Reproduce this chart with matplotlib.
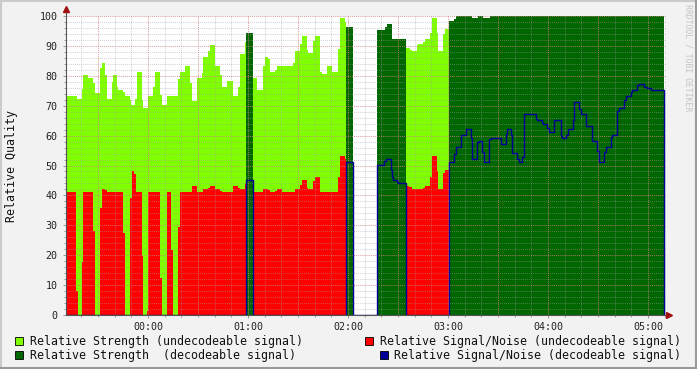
import numpy as np
import matplotlib
matplotlib.use("Agg")
import matplotlib.pyplot as plt
from matplotlib.patches import Rectangle

plt.rcParams['font.family'] = ['DejaVu Sans Mono', 'DejaVu Sans']

# temps en minutes depuis 00:00 (negatif = avant minuit)
t_debut, t_fin_data = -49.2, 309.6
t_gauche, t_droite = -49.2, 310.8

# force du signal (toutes periodes)
force_t = [-49.2, -42.6, -39.6, -39.0, -36.0, -33.0, -31.8, -28.8, -27.6, -25.8,
           -24.6, -21.6, -21.0, -18.6, -18.0, -15.0, -13.8, -10.8, -10.2, -7.8,
           -6.6, -3.6, -3.0, 0.0, 3.0, 4.2, 7.2, 8.4, 11.4, 18.0,
           19.2, 22.2, 25.2, 26.4, 29.4, 32.4, 33.0, 36.0, 37.2, 40.2,
           43.2, 44.4, 47.4, 51.0, 54.0, 55.2, 58.2, 59.0, 63.0, 65.4,
           69.0, 70.2, 72.0, 73.2, 76.2, 77.4, 87.0, 88.2, 91.2, 92.4,
           95.4, 96.0, 99.0, 100.2, 103.2, 104.4, 107.4, 110.4, 114.0, 115.2,
           118.2, 119.0, 123.0, 137.4, 142.2, 143.4, 146.4, 154.8, 157.2, 158.4,
           161.4, 162.0, 165.0, 166.2, 169.2, 170.4, 173.4, 174.0, 177.0, 178.2,
           180.6, 183.6, 184.8, 194.4, 198.0, 201.0, 205.2]
force_v = [73.2, 72.2, 75.5, 80.3, 79.3, 77.5, 74.2, 82.6, 84.3, 80.3,
           72.2, 78.0, 80.3, 76.3, 75.3, 74.6, 73.2, 72.0, 70.2, 72.2,
           81.3, 71.9, 69.3, 73.2, 76.3, 81.3, 73.6, 70.2, 73.2, 78.9,
           81.3, 83.3, 77.6, 71.6, 79.3, 80.9, 86.3, 88.3, 90.3, 83.3,
           80.3, 76.3, 78.3, 73.2, 76.3, 87.3, 91.3, 94.3, 79.3, 75.3,
           83.3, 86.3, 85.6, 81.3, 81.9, 83.3, 84.3, 88.3, 90.6, 93.3,
           88.6, 87.6, 91.6, 93.3, 81.3, 80.6, 83.3, 81.3, 89.0, 99.3,
           98.0, 96.3, 0.0, 95.3, 96.3, 97.3, 92.3, 89.3, 88.6, 88.3,
           90.3, 90.6, 91.3, 92.3, 94.3, 99.3, 94.3, 88.3, 94.0, 95.7,
           98.3, 99.0, 100.0, 99.3, 100.0, 99.3, 100.0]

# rapport signal/bruit
sb_t = [-49.2, -43.2, -42.0, -39.6, -39.0, -33.0, -31.8, -28.8, -27.6, -25.8,
        -24.6, -15.0, -13.8, -10.8, -9.6, -8.4, -7.2, -3.6, -3.0, -0.6,
        0.0, 7.2, 8.4, 11.4, 13.8, 15.0, 18.0, 19.2, 26.4, 29.4,
        33.0, 36.0, 37.2, 40.2, 43.2, 44.4, 51.0, 54.0, 55.2, 58.2,
        59.0, 63.0, 69.0, 72.0, 73.2, 76.2, 77.4, 80.4, 88.2, 91.2,
        92.4, 95.4, 96.0, 99.0, 100.2, 103.2, 114.0, 115.2, 118.2, 119.0,
        123.0, 137.4, 141.6, 142.8, 145.8, 146.4, 147.0, 149.4, 150.0, 154.8,
        156.6, 158.4, 165.0, 166.2, 169.2, 170.4, 173.4, 174.0, 177.0, 178.2,
        180.6, 183.6, 184.8, 187.8, 190.8, 193.8, 194.4, 197.4, 198.6, 200.4,
        201.6, 204.6, 205.8, 211.8, 214.8, 215.4, 217.8, 218.4, 221.4, 222.6,
        224.4, 225.6, 232.8, 233.4, 236.4, 237.0, 239.4, 240.6, 243.6, 247.8,
        248.4, 250.8, 252.0, 255.0, 255.6, 258.6, 259.8, 262.8, 266.4, 269.4,
        270.6, 273.6, 274.8, 277.8, 278.4, 281.4, 282.6, 285.6, 286.8, 289.8,
        290.4, 293.4, 294.6, 297.6, 299.4, 301.8]
sb_v = [41.2, 8.0, 0.0, 17.7, 41.2, 28.2, 0.0, 35.9, 42.1, 41.8,
        41.2, 27.5, 0.0, 39.2, 48.2, 47.0, 41.2, 19.7, 0.0, 1.3,
        41.2, 12.5, 0.0, 41.1, 21.8, 0.0, 29.5, 41.1, 43.1, 41.1,
        42.1, 42.5, 43.1, 42.1, 41.5, 41.1, 43.1, 42.5, 42.1, 43.8,
        45.2, 41.1, 42.1, 41.8, 41.1, 41.5, 42.1, 41.1, 42.1, 43.5,
        45.2, 42.5, 42.1, 44.8, 46.2, 41.1, 46.2, 53.2, 52.2, 51.1,
        0.0, 50.2, 51.5, 52.2, 48.5, 46.2, 45.2, 44.5, 44.1, 43.1,
        42.8, 42.1, 42.5, 43.1, 46.2, 53.2, 48.2, 42.1, 47.5, 48.5,
        51.2, 53.8, 56.2, 60.2, 62.2, 59.2, 52.2, 57.9, 58.2, 54.5,
        51.2, 58.9, 59.2, 57.2, 60.5, 62.2, 60.2, 54.2, 52.2, 51.2,
        52.8, 67.2, 65.6, 65.2, 64.2, 63.9, 62.5, 61.2, 65.2, 59.9,
        59.2, 60.2, 62.2, 65.2, 71.2, 68.9, 67.2, 63.2, 58.2, 54.8,
        51.2, 54.5, 56.2, 59.5, 60.2, 68.2, 69.2, 71.9, 73.2, 74.6,
        75.3, 76.9, 77.3, 76.3, 75.9, 75.3]

# periodes ou le signal est decodable
decode_de = [59.0, 119.0, 137.4, 180.6]
decode_a = [63.0, 123.0, 154.8, 309.6]

vert_clair = '#80FF00'
vert_fonce = '#006600'
rouge = '#FF0000'
bleu = '#000099'


def est_decode(t):
    return any(a <= t < b for a, b in zip(decode_de, decode_a))


def intervalles(tt, vv):
    bords = list(tt) + [t_fin_data]
    return [(bords[i], bords[i + 1], vv[i]) for i in range(len(vv))]


def remplir(ax, tt, vv, couleur, decode, z):
    # on regroupe les pas consecutifs de meme etat
    runs, courant = [], []
    for t0, t1, v in intervalles(tt, vv):
        if est_decode((t0 + t1) / 2) == decode:
            if courant and abs(courant[-1][1] - t0) > 1e-9:
                runs.append(courant)
                courant = []
            courant.append((t0, t1, v))
        elif courant:
            runs.append(courant)
            courant = []
    if courant:
        runs.append(courant)
    for r in runs:
        xs = [p[0] for p in r] + [r[-1][1]]
        ys = [p[2] for p in r] + [r[-1][2]]
        ax.fill_between(xs, 0, ys, step='post', color=couleur, lw=0,
                        antialiased=False, zorder=z)


fig = plt.figure(figsize=(6.97, 3.69), dpi=100, facecolor='#F2F2F2')
W, H = 697, 369
ax = fig.add_axes([66 / W, 54 / H, 600 / W, 299 / H])
ax.set_facecolor('white')

remplir(ax, force_t, force_v, vert_clair, False, 1)
remplir(ax, force_t, force_v, vert_fonce, True, 1)
remplir(ax, sb_t, sb_v, rouge, False, 2)

# ligne bleue: S/B decodable, 0 ailleurs
xs, ys = [], []
for t0, t1, v in intervalles(sb_t, sb_v):
    xs.append(t0)
    ys.append(v if est_decode((t0 + t1) / 2) else 0.0)
xs += [t_fin_data, t_fin_data]
ys += [ys[-1], 0.0]
ax.step(xs, ys, where='post', color=bleu, lw=1.0, zorder=4)

# grille
for y in np.arange(2, 101, 2):
    if y % 10 == 0:
        ax.axhline(y, color='#D08080', lw=0.75, ls=(0, (1, 1)), alpha=0.75, zorder=3)
    else:
        ax.axhline(y, color='#A0A0A0', lw=0.75, ls=(0, (1, 1)), alpha=0.45, zorder=3)
for t in np.arange(-40, 311, 10):
    if t % 30 == 0:
        ax.axvline(t, color='#D08080', lw=0.75, ls=(0, (1, 1)), alpha=0.75, zorder=3)
    else:
        ax.axvline(t, color='#A0A0A0', lw=0.75, ls=(0, (1, 1)), alpha=0.45, zorder=3)

ax.set_xlim(t_gauche, t_droite)
ax.set_ylim(0, 100)

heures = [0, 60, 120, 180, 240, 300]
heures_txt = ['00:00', '01:00', '02:00', '03:00', '04:00', '05:00']
ax.set_xticks(heures)
ax.set_xticklabels(heures_txt, fontsize=7.2, color='#222222')
ax.set_xticks(np.arange(-40, 311, 10), minor=True)
ax.set_yticks(np.arange(0, 101, 10))
ax.set_yticklabels([str(v) for v in range(0, 101, 10)], fontsize=7.2, color='#222222')
ax.set_yticks(np.arange(0, 101, 2), minor=True)
ax.tick_params(axis='both', which='major', length=2.2, width=0.7, color='#999999', pad=3)
ax.tick_params(axis='both', which='minor', length=1.5, width=0.7, color='#999999')
ax.tick_params(axis='y', which='major', pad=4)

for s in ['top', 'right']:
    ax.spines[s].set_visible(False)
for s in ['left', 'bottom']:
    ax.spines[s].set_color('#555555')
    ax.spines[s].set_linewidth(0.8)
    ax.spines[s].set_zorder(5)

# fleches des axes
ax.plot([t_gauche, t_gauche], [100, 102.5], color='#555555', lw=0.8, clip_on=False, zorder=5)
ax.plot([t_gauche], [102.3], marker='^', ms=4, color='#A01010', clip_on=False, zorder=6)
ax.plot([t_droite, 312.5], [0, 0], color='#555555', lw=0.8, clip_on=False, zorder=5)
ax.plot([312.6], [0], marker='>', ms=4, color='#A01010', clip_on=False, zorder=6)

fig.text(12 / W, 1 - 166 / H, 'Relative Quality', rotation=90, fontsize=8.4,
         ha='center', va='center', color='#111111')
fig.text(688 / W, 1 - 4 / H, 'RRDTOOL / TOBI OETIKER', rotation=270, fontsize=5.9,
         ha='center', va='top', color='#C4C4C4')

# legende
legende = [
    (15, 341, 30, vert_clair, 'Relative Strength (undecodeable signal)'),
    (365, 341, 380, rouge, 'Relative Signal/Noise (undecodeable signal)'),
    (15, 355, 30, vert_fonce, 'Relative Strength  (decodeable signal)'),
    (380, 355, 394, bleu, 'Relative Signal/Noise (decodeable signal)'),
]
for xc, yc, xt, c, txt in legende:
    fig.patches.append(Rectangle((xc / W, 1 - (yc + 4) / H), 8 / W, 8 / H,
                                 transform=fig.transFigure, facecolor=c,
                                 edgecolor='black', lw=0.6))
    fig.text(xt / W, 1 - yc / H, txt, fontsize=8.35, va='center', ha='left',
             color='#111111')

# bordure facon rrdtool
fig.add_artist(plt.Line2D([0, 1], [1 - 1 / H, 1 - 1 / H], transform=fig.transFigure, color='#CBCBCB', lw=1.5))
fig.add_artist(plt.Line2D([1 / W, 1 / W], [0, 1], transform=fig.transFigure, color='#CBCBCB', lw=1.5))
fig.add_artist(plt.Line2D([0, 1], [1 / H, 1 / H], transform=fig.transFigure, color='#999999', lw=1.5))
fig.add_artist(plt.Line2D([1 - 1 / W, 1 - 1 / W], [0, 1], transform=fig.transFigure, color='#999999', lw=1.5))

fig.savefig('out.png', dpi=100, facecolor=fig.get_facecolor())
